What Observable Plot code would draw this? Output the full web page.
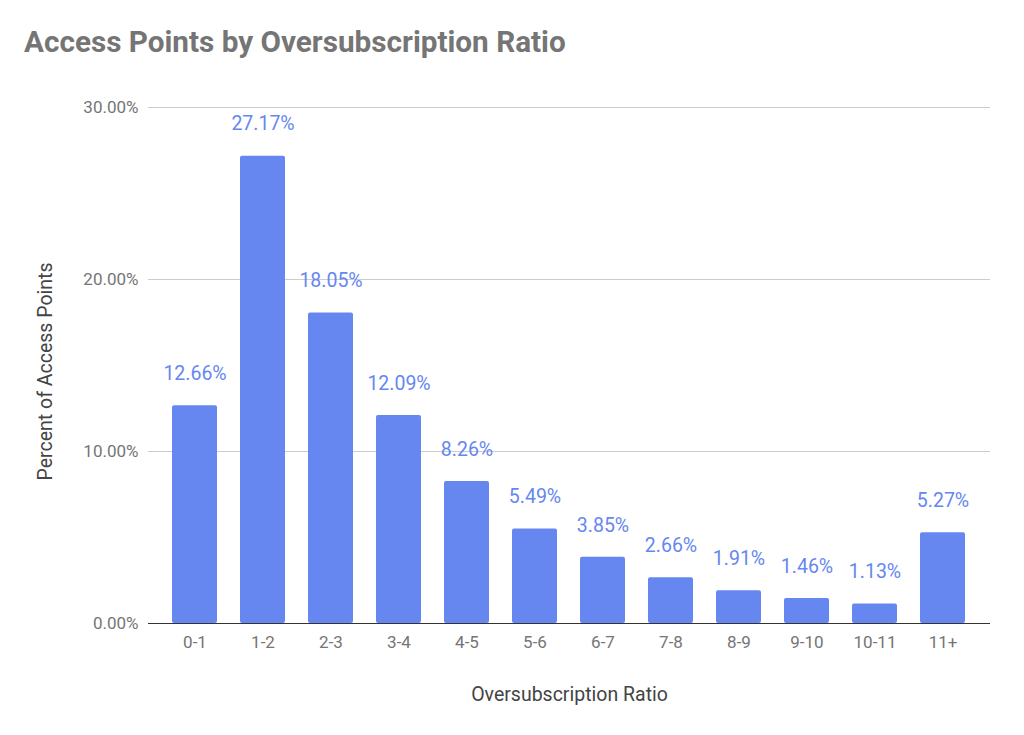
<!DOCTYPE html>
<html>
<head>
<meta charset="utf-8">
<script src="https://cdn.jsdelivr.net/npm/d3@7"></script>
<script src="https://cdn.jsdelivr.net/npm/@observablehq/plot@0.6"></script>
<style>
  body { margin: 0; background: #fff; font-family: Roboto, "Noto Sans", sans-serif; }
  #title { height: 80px; box-sizing: border-box; padding: 25px 0 0 24px; font-size: 29.7px; font-weight: 700; color: #757575; line-height: 34px; }
  #chart svg { display: block; }
</style>
</head>
<body>
<div id="title">Access Points by Oversubscription Ratio</div>
<div id="chart"></div>
<script>
const categories = ["0-1","1-2","2-3","3-4","4-5","5-6","6-7","7-8","8-9","9-10","10-11","11+"];
const percents = [12.66, 27.17, 18.05, 12.09, 8.26, 5.49, 3.85, 2.66, 1.91, 1.46, 1.13, 5.27];
const yTicks = [0, 10, 20, 30];

const data = categories.map((c, i) => ({cat: c, v: percents[i]}));
const blue = "#6687f0";
const grey = "#757575";

const chart = Plot.plot({
  width: 1024,
  height: 655,
  marginLeft: 148,
  marginRight: 34,
  marginTop: 27,
  marginBottom: 112,
  style: {fontFamily: "Roboto, 'Noto Sans', sans-serif", fontSize: "17px", color: grey, background: "#fff"},
  x: {domain: categories, paddingInner: 0.34, paddingOuter: 0, insetLeft: 23, insetRight: 24, label: null},
  y: {domain: [0, 30], label: null},
  marks: [
    Plot.ruleY(yTicks.filter(t => t > 0), {stroke: "#cccccc", strokeWidth: 1}),
    Plot.barY(data, {x: "cat", y: "v", fill: blue, rx: 2}),
    Plot.ruleY([0], {stroke: "#333", strokeWidth: 1.2}),
    Plot.text(data, {x: "cat", y: "v", text: d => d.v.toFixed(2) + "%", dy: -32, fill: blue, fontSize: 19.5}),
    Plot.axisY({ticks: yTicks, tickFormat: d => d.toFixed(2) + "%", tickSize: 0, tickPadding: 10, fontSize: 17, fill: grey, label: null}),
    Plot.axisX({tickSize: 0, tickPadding: 12, fontSize: 17, fill: grey, label: null}),
    Plot.text(["Oversubscription Ratio"], {frameAnchor: "bottom", lineAnchor: "middle", textAnchor: "middle", dy: 71, fontSize: 19.5, fill: "#444"}),
    Plot.text(["Percent of Access Points"], {frameAnchor: "left", lineAnchor: "middle", textAnchor: "middle", dx: -103, dy: 6, rotate: -90, fontSize: 19.5, fill: "#444"})
  ]
});
document.getElementById("chart").appendChild(chart);
</script>
</body>
</html>
